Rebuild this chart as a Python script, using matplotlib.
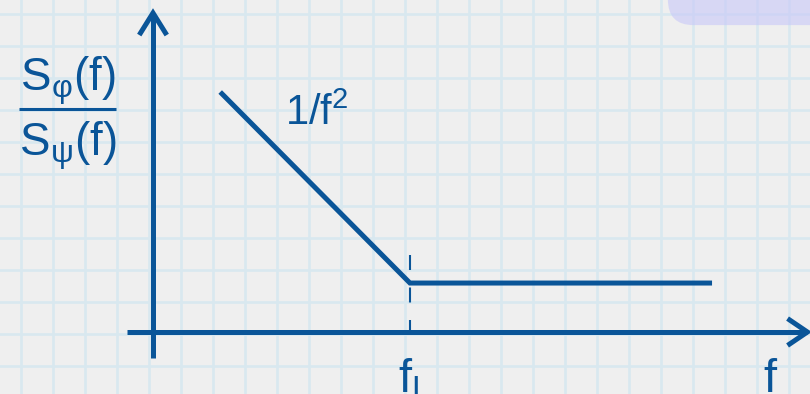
import matplotlib
matplotlib.use("Agg")
import matplotlib.pyplot as plt
from matplotlib.patches import FancyBboxPatch
import numpy as np

plt.rcParams['font.family'] = ['Liberation Sans', 'DejaVu Sans']
plt.rcParams['mathtext.fontset'] = 'custom'
plt.rcParams['mathtext.rm'] = 'Liberation Sans'
plt.rcParams['mathtext.it'] = 'Liberation Sans'
plt.rcParams['lines.scale_dashes'] = False

# Spectral ratio: 1/f^2 roll-off down to the corner f_L, flat above it
curve_f = [2.1, 8.03, 17.47]
curve_s = [7.5, 1.53, 1.53]
f_L = 8.03

numerator = r'S$_{\mathrm{φ}}$(f)'
denominator = r'S$_{\mathrm{ψ}}$(f)'
slope_label = r'1/f$^{\mathrm{2}}$'
corner_label = r'f$_{\mathrm{L}}$'
x_label = 'f'

BLUE = '#0a5598'
BG = '#efefef'
GRID = '#d9e8ef'

W, H, DPI = 810, 394, 100
fig = plt.figure(figsize=(W / DPI, H / DPI), dpi=DPI, facecolor=BG)
ax = fig.add_axes([0, 0, 1, 1])
ax.set_facecolor(BG)

# one unit = one grid square (32 px)
x0, x1 = -153 / 32, (W - 153) / 32
y0, y1 = -(H - 332) / 32, 332 / 32
ax.set_xlim(x0, x1)
ax.set_ylim(y0, y1)
ax.axis('off')

# squared paper
for gx in np.arange(-4.125, x1 + 1, 1.0):
    ax.axvline(gx, color=GRID, lw=1.9, zorder=0)
for gy in np.arange(-2.0625, y1 + 1, 1.0):
    ax.axhline(gy, color=GRID, lw=1.9, zorder=0)

# lavender tab in the corner
tab = FancyBboxPatch((16.09, 9.59), 8, 4,
                     boxstyle='round,pad=0,rounding_size=0.8',
                     facecolor='#c8c8f8', edgecolor='none', alpha=0.6, zorder=1)
ax.add_patch(tab)

lw = 3.6
# axes with open arrowheads
ax.plot([0, 0], [-0.8125, 9.97], color=BLUE, lw=lw, solid_capstyle='butt', zorder=3)
ax.plot([-0.43, 0, 0.43], [9.97 - 0.69, 9.97, 9.97 - 0.69], color=BLUE, lw=lw,
        solid_joinstyle='miter', solid_capstyle='butt', zorder=3)
ax.plot([-0.8125, 20.45], [0, 0], color=BLUE, lw=lw, solid_capstyle='butt', zorder=3)
ax.plot([20.45 - 0.62, 20.45, 20.45 - 0.62], [0.42, 0, -0.42], color=BLUE, lw=lw,
        solid_joinstyle='miter', solid_capstyle='butt', zorder=3)

# corner marker
ax.plot([f_L, f_L], [2.4, 0], color=BLUE, lw=1.5, dashes=(10.8, 12.6),
        solid_capstyle='butt', zorder=2)

# spectrum
ax.plot(curve_f, curve_s, color=BLUE, lw=lw, solid_joinstyle='miter',
        solid_capstyle='butt', zorder=4)

# labels
ax.text(-2.67, 7.56, numerator, color=BLUE, fontsize=33, ha='center', va='baseline')
ax.text(-2.67, 5.53, denominator, color=BLUE, fontsize=33, ha='center', va='baseline')
ax.plot([-4.19, -1.16], [6.97, 6.97], color=BLUE, lw=2.2, solid_capstyle='butt')
ax.text(4.125, 6.47, slope_label, color=BLUE, fontsize=30, ha='left', va='baseline')
ax.text(7.66, -1.875, corner_label, color=BLUE, fontsize=34, ha='left', va='baseline')
ax.text(19.06, -1.875, x_label, color=BLUE, fontsize=34, ha='left', va='baseline')

fig.savefig('out.png', dpi=DPI, facecolor=BG)
